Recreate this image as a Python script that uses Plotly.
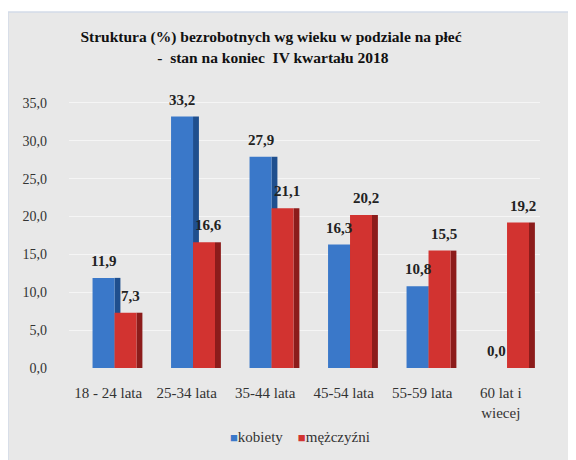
import plotly.graph_objects as go

categories = ["18 - 24 lata", "25-34 lata", "35-44 lata", "45-54 lata", "55-59 lata", "60 lat i<br>wiecej"]
kobiety = [11.9, 33.2, 27.9, 16.3, 10.8, 0.0]
mezczyzni = [7.3, 16.6, 21.1, 20.2, 15.5, 19.2]
y_ticks = [0, 5, 10, 15, 20, 25, 30, 35]

FONT = "Liberation Serif, DejaVu Serif, serif"
W = 0.28
SIDE = 0.075
xpos = list(range(len(categories)))

fig = go.Figure()
annotations = []

def add_series(name, vals, front, side, off, label_shift):
    fig.add_trace(go.Bar(x=xpos, y=vals, width=SIDE, offset=off + W,
                         marker=dict(color=side, line=dict(width=0)),
                         showlegend=False, hoverinfo="skip"))
    fig.add_trace(go.Bar(x=xpos, y=vals, name=name, width=W, offset=off,
                         marker=dict(color=front, line=dict(width=0)),
                         showlegend=False))
    for i, v in zip(xpos, vals):
        annotations.append(dict(x=i + off + W / 2 + label_shift, y=v, xref="x", yref="y",
                                text=f"{v:.1f}".replace(".", ","), showarrow=False,
                                yanchor="bottom", yshift=7,
                                font=dict(family=FONT, size=15, color="#222", weight="bold")))

add_series("kobiety", kobiety, "#3a78c9", "#1f4f8e", -0.2, 0.0)
add_series("mężczyźni", mezczyzni, "#d23330", "#8c1c1b", 0.08, SIDE * 0.8)

annotations.append(dict(
    x=0.49, y=-0.243, xref="paper", yref="paper", xanchor="center", yanchor="middle",
    showarrow=False,
    text=("<span style='color:#3a78c9;font-size:13px'>■</span>kobiety&nbsp;&nbsp;&nbsp;&nbsp;"
          "<span style='color:#d23330;font-size:13px'>■</span>mężczyźni"),
    font=dict(family=FONT, size=15, color="#333")))

fig.update_layout(
    width=568, height=452,
    barmode="overlay",
    separators=", ",
    paper_bgcolor="#e8e8e8",
    plot_bgcolor="rgba(0,0,0,0)",
    showlegend=False,
    margin=dict(l=61, r=36, t=76, b=92, autoexpand=False),
    title=dict(text="Struktura (%) bezrobotnych wg wieku w podziale na płeć<br> -  stan na koniec  IV kwartału 2018",
               x=0.463, xanchor="center", y=0.924, yanchor="top",
               font=dict(family=FONT, size=15.5, color="#111", weight="bold")),
    font=dict(family=FONT, size=15, color="#333"),
    xaxis=dict(range=[-0.5, 5.5], tickvals=xpos, ticktext=categories,
               showgrid=False, showline=False, zeroline=False, ticks="",
               tickfont=dict(family=FONT, size=15, color="#333"), ticklabelstandoff=14),
    yaxis=dict(range=[0, 37.5], tickvals=y_ticks, tickformat=".1f",
               showgrid=True, gridcolor="#f5f5f5", gridwidth=1, zeroline=False,
               tickfont=dict(family=FONT, size=14, color="#333"), ticklabelstandoff=21),
    annotations=annotations,
    shapes=[
        dict(type="rect", xref="paper", yref="paper",
             x0=-0.2, x1=1.2, y0=1 + 72 / 284, y1=1 + 80 / 284,
             fillcolor="white", line=dict(width=0), layer="below"),
        dict(type="line", xref="paper", yref="paper",
             x0=-61 / 471, x1=1.2, y0=1 + 72 / 284, y1=1 + 72 / 284,
             line=dict(color="#d3dbe8", width=1.5), layer="below"),
        dict(type="line", xref="paper", yref="paper",
             x0=-61 / 471, x1=-61 / 471, y0=-0.4, y1=1 + 72 / 284,
             line=dict(color="#d3dbe8", width=1.5), layer="below"),
    ],
)

fig.write_html("out.html")
